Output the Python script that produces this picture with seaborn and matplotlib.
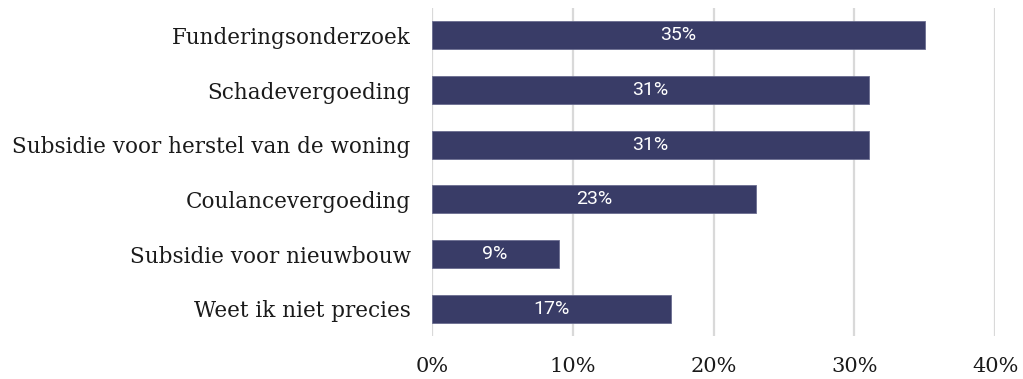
import matplotlib
matplotlib.use("Agg")
import matplotlib.pyplot as plt
import seaborn as sns
import pandas as pd

categories = [
    "Funderingsonderzoek",
    "Schadevergoeding",
    "Subsidie voor herstel van de woning",
    "Coulancevergoeding",
    "Subsidie voor nieuwbouw",
    "Weet ik niet precies",
]
values = [35, 31, 31, 23, 9, 17]
tick_values = [0, 10, 20, 30, 40]
tick_labels = ["0%", "10%", "20%", "30%", "40%"]

df = pd.DataFrame({"categorie": categories, "waarde": values})

sns.set_theme(style="white")
plt.rcParams["font.family"] = ["DejaVu Serif"]

fig = plt.figure(figsize=(10.23, 3.79), dpi=100)
ax = fig.add_axes([0.422, 0.113, 0.551, 0.866])

bar_color = "#393c67"
sns.barplot(data=df, x="waarde", y="categorie", orient="h", color=bar_color,
            saturation=1, width=0.51, ax=ax, edgecolor="#6a6d90", linewidth=0.6)

ax.set_xlim(0, 40)
ax.set_ylim(5.5, -0.5)
ax.set_xticks(tick_values)
ax.set_xticklabels(tick_labels, fontsize=15)
ax.tick_params(axis="y", labelsize=15.5, length=0, pad=15)
ax.tick_params(axis="x", length=0, pad=15)
ax.set_xlabel("")
ax.set_ylabel("")
for lab in ax.get_yticklabels() + ax.get_xticklabels():
    lab.set_color("#1a1a1a")

ax.xaxis.grid(True, color="#d9d9d9", linewidth=1.6)
ax.set_axisbelow(True)
for s in ax.spines.values():
    s.set_visible(False)

for cont in ax.containers:
    ax.bar_label(cont, labels=[f"{v}%" for v in values], label_type="center",
                 color="white", fontsize=14, family=["Roboto", "DejaVu Sans"])

fig.savefig("out.png", dpi=100)
